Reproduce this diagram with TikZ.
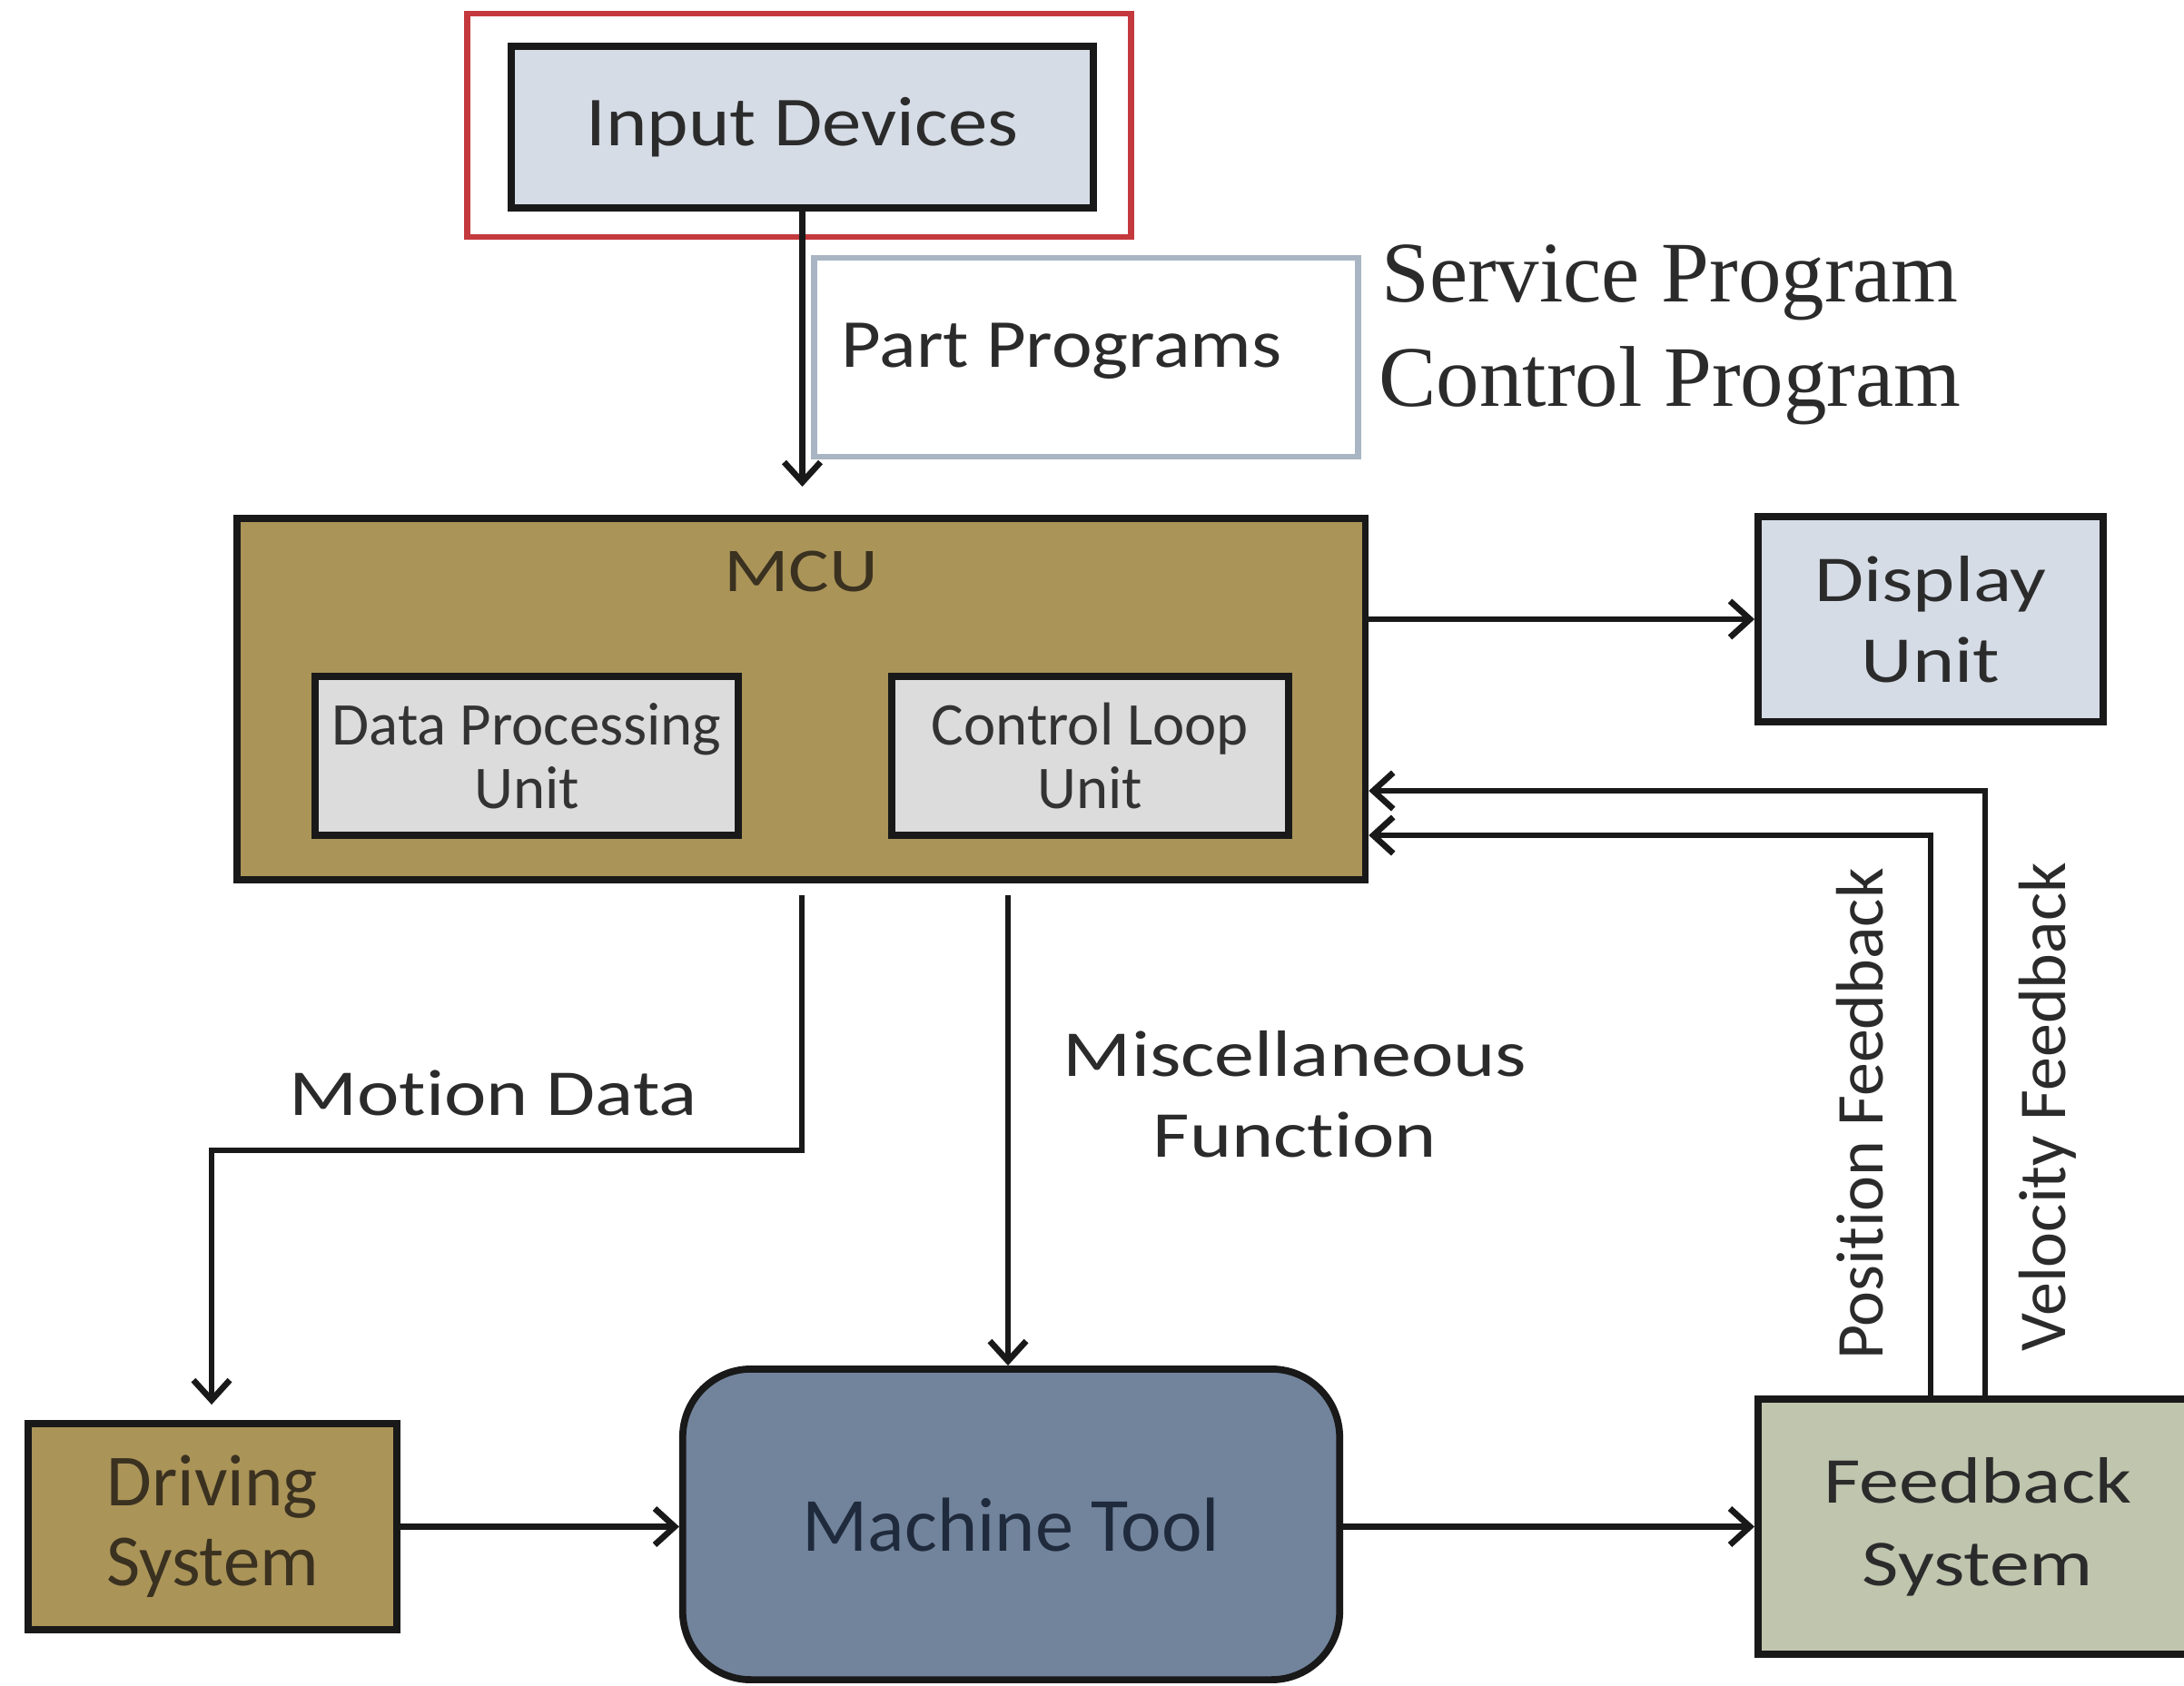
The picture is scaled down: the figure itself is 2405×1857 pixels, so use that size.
\documentclass[tikz,border=0pt]{standalone}
\usepackage{fontspec}
\setmainfont{Carlito}[RawFeature=-liga]
\newfontfamily\widefont[FakeStretch=1.22, RawFeature=-liga]{Carlito}
\newfontfamily\midfont[FakeStretch=1.12, RawFeature=-liga]{Carlito}
\newfontfamily\serifont{Liberation Serif}
\usetikzlibrary{arrows.meta}

\definecolor{inputfill}{HTML}{D5DCE6}
\definecolor{framered}{HTML}{C4393D}
\definecolor{partedge}{HTML}{A9B5C2}
\definecolor{khaki}{HTML}{AA9458}
\definecolor{unitfill}{HTML}{DCDCDC}
\definecolor{toolfill}{HTML}{72849C}
\definecolor{fbfill}{HTML}{C0C5AE}
\definecolor{ink}{HTML}{2B2B2B}
\definecolor{brownink}{HTML}{3A3120}
\definecolor{navyink}{HTML}{1F2A3C}

\tikzset{
  blockbox/.style={draw=black!90, line width=2.2pt, inner sep=0pt, align=center, text=ink},
  arr/.style={draw=black!90, line width=1.9pt,
    -{Straight Barb[length=0.22cm, width=0.4cm, line width=1.9pt]}},
  wide/.style={font=\widefont\fontsize{20.5}{25.3}\selectfont, text=ink, align=center},
}

\begin{document}
\begin{tikzpicture}[x=0.01cm, y=-0.01cm]
  \useasboundingbox (0,0) rectangle (2405,1857);
  \fill[white] (0,0) rectangle (2405,1857);
  \clip (0,0) rectangle (2405,1857);

  % input stage
  \node[draw=framered, line width=1.9pt, minimum width=7.30cm, minimum height=2.46cm] (frame) at (880,138) {};
  \node[blockbox, fill=inputfill, minimum width=6.41cm, minimum height=1.78cm,
        font=\midfont\fontsize{22}{26}\selectfont] (input) at (883.5,140) {Input Devices};

  \node[draw=partedge, line width=1.9pt, fill=white, minimum width=5.98cm, minimum height=2.19cm] (partbox) at (1196,393.5) {};
  \node[font=\midfont\fontsize{21.5}{26}\selectfont, text=ink] (partlbl) at (1169,387) {Part Programs};

  \node[font=\serifont\fontsize{27}{32.7}\selectfont, text=ink, align=center] (progs) at (1839,368.5)
    {Service Program\\Control Program};

  % machine control unit
  \node[blockbox, fill=khaki, minimum width=12.42cm, minimum height=3.98cm] (mcu) at (882,770) {};
  \node[font=\widefont\fontsize{19.5}{24}\selectfont, text=brownink] (mculbl) at (882,629) {MCU};
  \node[blockbox, fill=unitfill, minimum width=4.66cm, minimum height=1.75cm,
        font=\fontsize{19}{20}\selectfont, text=black!80] (dpu) at (580,832.5) {Data Processing\\Unit};
  \node[blockbox, fill=unitfill, minimum width=4.37cm, minimum height=1.75cm,
        font=\fontsize{19}{20}\selectfont, text=black!80] (clu) at (1200.5,832.5) {Control Loop\\Unit};

  \node[blockbox, fill=inputfill, minimum width=3.80cm, minimum height=2.26cm,
        font=\widefont\fontsize{20.5}{25.3}\selectfont] (display) at (2126,682) {Display\\Unit};

  % lower row
  \node[blockbox, fill=khaki, minimum width=4.06cm, minimum height=2.27cm, text=brownink,
        font=\fontsize{23}{25}\selectfont] (driving) at (234,1681.5) {Driving\\System};
  \node[blockbox, fill=toolfill, rounded corners=0.75cm, minimum width=7.23cm, minimum height=3.42cm,
        text=navyink, font=\fontsize{24}{28}\selectfont] (machine) at (1113.5,1679) {Machine Tool};
  \node[blockbox, fill=fbfill, minimum width=4.84cm, minimum height=2.81cm,
        font=\widefont\fontsize{20.5}{26}\selectfont] (feedback) at (2178,1681.5) {Feedback\\System};

  % bend points of the routed connectors
  \coordinate (mbendA) at (883,1267);
  \coordinate (mbendB) at (233,1267);
  \coordinate (miscx) at (1110,1267);
  \coordinate (velbend) at (2186,871);
  \coordinate (posbend) at (2126,920);

  % connectors
  \draw[arr, shorten >=0.31cm] (input.south) -- (input.south |- mcu.north);
  \draw[arr] (mcu.east |- display.west) -- (display.west);
  \draw[arr, shorten <=0.13cm, shorten >=0.17cm] (mcu.south -| mbendA) -- (mbendA) -- (mbendB) -- (mbendB |- driving.north);
  \draw[arr, shorten <=0.13cm] (mcu.south -| miscx) -- (miscx |- machine.north);
  \draw[arr] (driving.east) -- (driving.east -| machine.west);
  \draw[arr] (machine.east |- feedback.west) -- (feedback.west);
  \draw[arr] (velbend |- feedback.north) -- (velbend) -- (velbend -| mcu.east);
  \draw[arr] (posbend |- feedback.north) -- (posbend) -- (posbend -| mcu.east);

  % connector labels
  \node[wide] (motionlbl) at (543,1204) {Motion Data};
  \node[wide] (misclbl) at (1426,1205) {Miscellaneous\\Function};
  \node[rotate=90, font=\fontsize{21}{24}\selectfont, text=ink] (poslbl) at (2048,1227) {Position Feedback};
  \node[rotate=90, font=\fontsize{21}{24}\selectfont, text=ink] (vellbl) at (2255,1219) {Velocity Feedback};
\end{tikzpicture}
\end{document}
